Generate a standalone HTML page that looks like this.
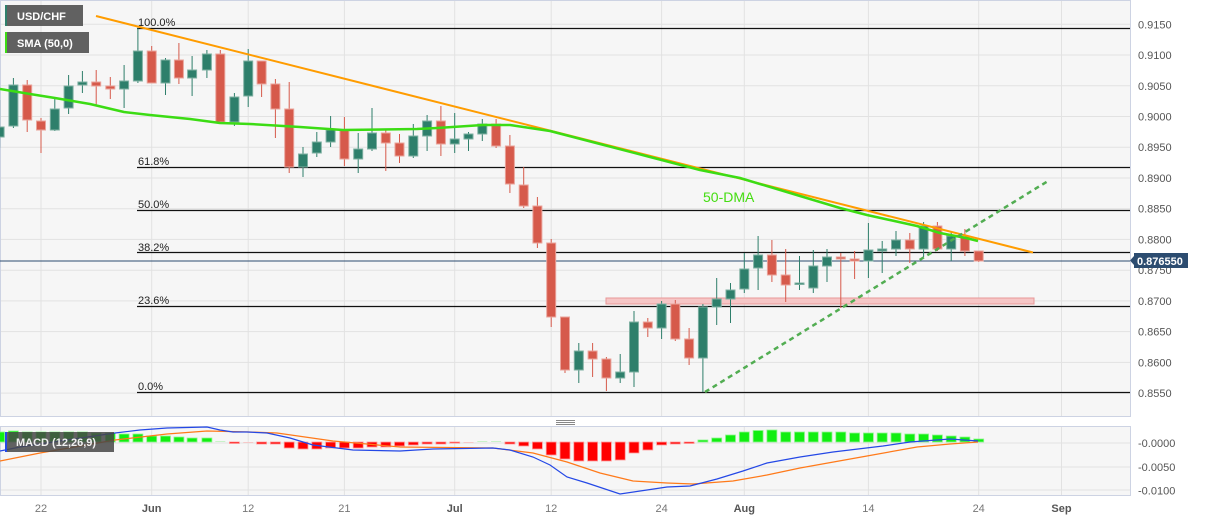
<!DOCTYPE html>
<html><head><meta charset="utf-8"><style>
html,body{margin:0;padding:0;background:#fff;width:1207px;height:521px;overflow:hidden}
svg{display:block}
text{font-family:"Liberation Sans",sans-serif}
.g line{stroke:#2e7f6b;stroke-width:1}
.g rect{fill:#2e7f6b;stroke:#7fb0a2;stroke-width:1}
.r line{stroke:#d65a4b;stroke-width:1}
.r rect{fill:#d65a4b;stroke:#eaa49b;stroke-width:1}
.grid line{stroke:#e2e2e2;stroke-width:1}
.fib line{stroke:#111;stroke-width:1.2}
.fib text{font-size:11px;fill:#222}
.ax text{font-size:11px;fill:#555}
.xl text{font-size:11px;fill:#777;text-anchor:middle}
.xl text.m{font-weight:bold;fill:#555}
.hg rect{fill:#11ee11;stroke:#8ff58f;stroke-width:0.8}
.hr rect{fill:#ff0000;stroke:#ff9a9a;stroke-width:0.8}
</style></head><body>
<svg width="1207" height="521" viewBox="0 0 1207 521" xmlns="http://www.w3.org/2000/svg">
<!-- panels -->
<rect x="0.5" y="0.5" width="1130" height="416" fill="#f6f6f6" stroke="#cdd3e3"/>
<rect x="0.5" y="426.5" width="1130" height="69" fill="#f6f6f6" stroke="#cdd3e3"/>
<!-- grip -->
<g stroke="#888" stroke-width="1"><line x1="556" y1="420.5" x2="575" y2="420.5"/><line x1="556" y1="422.5" x2="575" y2="422.5"/><line x1="556" y1="424.5" x2="575" y2="424.5"/></g>
<!-- grids main -->
<g class="grid">
<line x1="1" y1="24.3" x2="1130" y2="24.3"/><line x1="1" y1="55" x2="1130" y2="55"/><line x1="1" y1="85.8" x2="1130" y2="85.8"/><line x1="1" y1="116.5" x2="1130" y2="116.5"/><line x1="1" y1="147.2" x2="1130" y2="147.2"/><line x1="1" y1="178" x2="1130" y2="178"/><line x1="1" y1="208.7" x2="1130" y2="208.7"/><line x1="1" y1="239.4" x2="1130" y2="239.4"/><line x1="1" y1="270.2" x2="1130" y2="270.2"/><line x1="1" y1="300.9" x2="1130" y2="300.9"/><line x1="1" y1="331.6" x2="1130" y2="331.6"/><line x1="1" y1="362.4" x2="1130" y2="362.4"/><line x1="1" y1="393.1" x2="1130" y2="393.1"/>
<line x1="41" y1="1" x2="41" y2="416"/><line x1="151.7" y1="1" x2="151.7" y2="416"/><line x1="248.2" y1="1" x2="248.2" y2="416"/><line x1="344.4" y1="1" x2="344.4" y2="416"/><line x1="454.7" y1="1" x2="454.7" y2="416"/><line x1="551.2" y1="1" x2="551.2" y2="416"/><line x1="661.6" y1="1" x2="661.6" y2="416"/><line x1="744.3" y1="1" x2="744.3" y2="416"/><line x1="868.4" y1="1" x2="868.4" y2="416"/><line x1="978.7" y1="1" x2="978.7" y2="416"/><line x1="1061.5" y1="1" x2="1061.5" y2="416"/>
<line x1="1" y1="443" x2="1130" y2="443"/><line x1="1" y1="467" x2="1130" y2="467"/><line x1="1" y1="490" x2="1130" y2="490"/>
<line x1="41" y1="427" x2="41" y2="495"/><line x1="151.7" y1="427" x2="151.7" y2="495"/><line x1="248.2" y1="427" x2="248.2" y2="495"/><line x1="344.4" y1="427" x2="344.4" y2="495"/><line x1="454.7" y1="427" x2="454.7" y2="495"/><line x1="551.2" y1="427" x2="551.2" y2="495"/><line x1="661.6" y1="427" x2="661.6" y2="495"/><line x1="744.3" y1="427" x2="744.3" y2="495"/><line x1="868.4" y1="427" x2="868.4" y2="495"/><line x1="978.7" y1="427" x2="978.7" y2="495"/><line x1="1061.5" y1="427" x2="1061.5" y2="495"/>
</g>
<!-- fib -->
<g class="fib">
<line x1="137" y1="28.5" x2="1130" y2="28.5"/><text x="138" y="26">100.0%</text>
<line x1="137" y1="167.5" x2="1130" y2="167.5"/><text x="138" y="165">61.8%</text>
<line x1="137" y1="210.5" x2="1130" y2="210.5"/><text x="138" y="208">50.0%</text>
<line x1="137" y1="252.5" x2="1130" y2="252.5"/><text x="138" y="251">38.2%</text>
<line x1="137" y1="306.5" x2="1130" y2="306.5"/><text x="138" y="304">23.6%</text>
<line x1="137" y1="392.5" x2="1130" y2="392.5"/><text x="138" y="390">0.0%</text>
</g>
<!-- current price line -->
<line x1="0" y1="261" x2="1130" y2="261" stroke="#2c4c70" stroke-width="1"/>
<!-- pink zone -->
<rect x="606" y="298" width="428" height="6" fill="#f6c6c6" stroke="#e89898" stroke-width="1"/>
<!-- candles green -->
<g class="g">
<line x1="-0.4" y1="100" x2="-0.4" y2="148"/><rect x="-4.9" y="127" width="9" height="10"/>
<line x1="13.4" y1="78" x2="13.4" y2="128"/><rect x="8.9" y="85" width="9" height="41"/>
<line x1="54.8" y1="99" x2="54.8" y2="131"/><rect x="50.3" y="109" width="9" height="21"/>
<line x1="68.6" y1="75" x2="68.6" y2="114"/><rect x="64.1" y="86" width="9" height="22"/>
<line x1="82.4" y1="71" x2="82.4" y2="93"/><rect x="77.9" y="82" width="9" height="3"/>
<line x1="124.1" y1="65" x2="124.1" y2="108"/><rect x="119.6" y="81" width="9" height="8"/>
<line x1="137.9" y1="28" x2="137.9" y2="83"/><rect x="133.4" y="51" width="9" height="30"/>
<line x1="165.5" y1="58" x2="165.5" y2="95"/><rect x="161" y="60" width="9" height="23"/>
<line x1="192.1" y1="56" x2="192.1" y2="96"/><rect x="187.6" y="70" width="9" height="8"/>
<line x1="206.9" y1="50" x2="206.9" y2="78"/><rect x="202.4" y="54" width="9" height="16"/>
<line x1="234.4" y1="93" x2="234.4" y2="126"/><rect x="229.9" y="97" width="9" height="25"/>
<line x1="248.2" y1="49" x2="248.2" y2="107"/><rect x="243.7" y="61" width="9" height="35"/>
<line x1="303" y1="147" x2="303" y2="177"/><rect x="298.5" y="154" width="9" height="13"/>
<line x1="316.8" y1="132" x2="316.8" y2="157"/><rect x="312.3" y="142" width="9" height="11"/>
<line x1="330.6" y1="116" x2="330.6" y2="147"/><rect x="326.1" y="130" width="9" height="12"/>
<line x1="358.2" y1="133" x2="358.2" y2="173"/><rect x="353.7" y="149" width="9" height="10"/>
<line x1="372" y1="108" x2="372" y2="151"/><rect x="367.5" y="133" width="9" height="16"/>
<line x1="413.3" y1="124" x2="413.3" y2="158"/><rect x="408.8" y="136" width="9" height="20"/>
<line x1="427.1" y1="115" x2="427.1" y2="151"/><rect x="422.6" y="121" width="9" height="15"/>
<line x1="454.7" y1="113" x2="454.7" y2="153"/><rect x="450.2" y="139" width="9" height="5"/>
<line x1="468.5" y1="132" x2="468.5" y2="151"/><rect x="464" y="134" width="9" height="5"/>
<line x1="482.3" y1="119" x2="482.3" y2="141"/><rect x="477.8" y="124" width="9" height="10"/>
<line x1="578.8" y1="343" x2="578.8" y2="383"/><rect x="574.3" y="351" width="9" height="19"/>
<line x1="620.2" y1="354" x2="620.2" y2="383"/><rect x="615.7" y="372" width="9" height="6"/>
<line x1="634" y1="311" x2="634" y2="387"/><rect x="629.5" y="322" width="9" height="50"/>
<line x1="661.6" y1="301" x2="661.6" y2="339"/><rect x="657.1" y="304" width="9" height="24"/>
<line x1="702.9" y1="304" x2="702.9" y2="392"/><rect x="698.4" y="307" width="9" height="51"/>
<line x1="716.7" y1="278" x2="716.7" y2="325"/><rect x="712.2" y="299" width="9" height="8"/>
<line x1="730.5" y1="283" x2="730.5" y2="323"/><rect x="726" y="290" width="9" height="9"/>
<line x1="744.3" y1="253" x2="744.3" y2="293"/><rect x="739.8" y="269" width="9" height="20"/>
<line x1="758.1" y1="236" x2="758.1" y2="290"/><rect x="753.6" y="255" width="9" height="13"/>
<line x1="799.5" y1="256" x2="799.5" y2="290"/><rect x="795" y="283" width="9" height="1.5"/>
<line x1="813.3" y1="250" x2="813.3" y2="293"/><rect x="808.8" y="266" width="9" height="22"/>
<line x1="827" y1="249" x2="827" y2="282"/><rect x="822.5" y="257" width="9" height="9"/>
<line x1="868.4" y1="223" x2="868.4" y2="278"/><rect x="863.9" y="250" width="9" height="11"/>
<line x1="882.2" y1="241" x2="882.2" y2="273"/><rect x="877.7" y="249" width="9" height="2"/>
<line x1="896" y1="231" x2="896" y2="256"/><rect x="891.5" y="240" width="9" height="9"/>
<line x1="923.6" y1="222" x2="923.6" y2="257"/><rect x="919.1" y="226" width="9" height="23"/>
<line x1="951.2" y1="232" x2="951.2" y2="261"/><rect x="946.7" y="236" width="9" height="13"/>
</g>
<!-- candles red -->
<g class="r">
<line x1="27.2" y1="80" x2="27.2" y2="132"/><rect x="22.7" y="85" width="9" height="35"/>
<line x1="41" y1="118" x2="41" y2="153"/><rect x="36.5" y="121" width="9" height="9"/>
<line x1="96.2" y1="70" x2="96.2" y2="106"/><rect x="91.7" y="82" width="9" height="4"/>
<line x1="110.3" y1="77" x2="110.3" y2="99"/><rect x="105.8" y="86" width="9" height="3"/>
<line x1="151.7" y1="46" x2="151.7" y2="83"/><rect x="147.2" y="51" width="9" height="32"/>
<line x1="178.9" y1="43" x2="178.9" y2="84"/><rect x="174.4" y="60" width="9" height="18"/>
<line x1="220.3" y1="50" x2="220.3" y2="123"/><rect x="215.8" y="54" width="9" height="68"/>
<line x1="261.6" y1="61" x2="261.6" y2="97"/><rect x="257.1" y="61" width="9" height="23"/>
<line x1="275.4" y1="79" x2="275.4" y2="138"/><rect x="270.9" y="84" width="9" height="25"/>
<line x1="289.2" y1="82" x2="289.2" y2="173"/><rect x="284.7" y="109" width="9" height="58"/>
<line x1="344.4" y1="117" x2="344.4" y2="166"/><rect x="339.9" y="130" width="9" height="29"/>
<line x1="385.8" y1="130" x2="385.8" y2="171"/><rect x="381.3" y="133" width="9" height="10"/>
<line x1="399.5" y1="134" x2="399.5" y2="163"/><rect x="395" y="143" width="9" height="13"/>
<line x1="440.9" y1="106" x2="440.9" y2="156"/><rect x="436.4" y="121" width="9" height="23"/>
<line x1="496.1" y1="119" x2="496.1" y2="148"/><rect x="491.6" y="124" width="9" height="22"/>
<line x1="509.9" y1="135" x2="509.9" y2="193"/><rect x="505.4" y="146" width="9" height="38"/>
<line x1="523.7" y1="167" x2="523.7" y2="208"/><rect x="519.2" y="185" width="9" height="21"/>
<line x1="537.4" y1="197" x2="537.4" y2="248"/><rect x="532.9" y="206" width="9" height="37"/>
<line x1="551.2" y1="239" x2="551.2" y2="327"/><rect x="546.7" y="243" width="9" height="74"/>
<line x1="565" y1="317" x2="565" y2="373"/><rect x="560.5" y="317" width="9" height="53"/>
<line x1="592.6" y1="343" x2="592.6" y2="377"/><rect x="588.1" y="351" width="9" height="8"/>
<line x1="606.4" y1="357" x2="606.4" y2="391"/><rect x="601.9" y="359" width="9" height="19"/>
<line x1="647.8" y1="318" x2="647.8" y2="337"/><rect x="643.3" y="322" width="9" height="6"/>
<line x1="675.3" y1="300" x2="675.3" y2="341"/><rect x="670.8" y="304" width="9" height="35"/>
<line x1="689.1" y1="328" x2="689.1" y2="365"/><rect x="684.6" y="339" width="9" height="19"/>
<line x1="771.9" y1="240" x2="771.9" y2="282"/><rect x="767.4" y="255" width="9" height="20"/>
<line x1="785.7" y1="249" x2="785.7" y2="302"/><rect x="781.2" y="275" width="9" height="10"/>
<line x1="840.8" y1="253" x2="840.8" y2="308"/><rect x="836.3" y="257" width="9" height="2"/>
<line x1="854.6" y1="251" x2="854.6" y2="279"/><rect x="850.1" y="259" width="9" height="2"/>
<line x1="909.8" y1="233" x2="909.8" y2="263"/><rect x="905.3" y="240" width="9" height="9"/>
<line x1="937.4" y1="222" x2="937.4" y2="251"/><rect x="932.9" y="226" width="9" height="23"/>
<line x1="964.9" y1="229" x2="964.9" y2="256"/><rect x="960.4" y="236" width="9" height="15"/>
<line x1="978.7" y1="251" x2="978.7" y2="262"/><rect x="974.2" y="251" width="9" height="10"/>
</g>
<!-- lines -->
<line x1="96" y1="16" x2="1033" y2="252.5" stroke="#ff9c00" stroke-width="2"/>
<polyline fill="none" stroke="#3cdc14" stroke-width="2.5" stroke-linejoin="round" points="0,89 30,94 55,98 90,104 124,112 150,115 190,119 220,123 250,124 300,127 343,130 417,129 437,128 483,125 510,125 550,131 600,144 650,157 700,170 740,178 800,196 840,208 867,215 917,226 940,233 966,238 978,241"/>
<line x1="705" y1="392" x2="1048" y2="181" stroke="#52ad52" stroke-width="2.5" stroke-dasharray="5,4"/>
<text x="703" y="202" font-size="14" fill="#44dd11">50-DMA</text>
<!-- histogram green -->
<g class="hg">
<rect x="-5.4" y="432" width="10" height="10"/><rect x="8.4" y="431" width="10" height="11"/><rect x="22.2" y="432" width="10" height="10"/><rect x="36" y="432" width="10" height="10"/><rect x="49.8" y="432" width="10" height="10"/><rect x="63.6" y="432" width="10" height="10"/><rect x="77.4" y="432" width="10" height="10"/><rect x="91.2" y="433" width="10" height="9"/><rect x="105.3" y="433" width="10" height="9"/><rect x="119.1" y="434" width="10" height="8"/><rect x="132.9" y="434" width="10" height="8"/><rect x="146.7" y="436" width="10" height="6"/><rect x="160.5" y="436" width="10" height="6"/><rect x="173.9" y="437" width="10" height="5"/><rect x="187.1" y="438" width="10" height="4"/><rect x="201.9" y="438" width="10" height="4"/>
<rect x="697.9" y="440" width="10" height="2"/><rect x="711.7" y="438" width="10" height="4"/><rect x="725.5" y="435" width="10" height="7"/><rect x="739.3" y="432" width="10" height="10"/><rect x="753.1" y="430.5" width="10" height="11.5"/><rect x="766.9" y="430" width="10" height="12"/><rect x="780.7" y="432" width="10" height="10"/><rect x="794.5" y="432" width="10" height="10"/><rect x="808.3" y="432" width="10" height="10"/><rect x="822" y="432" width="10" height="10"/><rect x="835.8" y="432" width="10" height="10"/><rect x="849.6" y="433" width="10" height="9"/><rect x="863.4" y="433" width="10" height="9"/><rect x="877.2" y="433" width="10" height="9"/><rect x="891" y="433" width="10" height="9"/><rect x="904.8" y="434" width="10" height="8"/><rect x="918.6" y="434" width="10" height="8"/><rect x="932.4" y="435" width="10" height="7"/><rect x="946.2" y="436" width="10" height="6"/><rect x="959.9" y="437" width="10" height="5"/><rect x="973.7" y="439" width="10" height="3"/>
</g>
<g fill="#c8f2c8"><rect x="215.3" y="441" width="10" height="1"/><rect x="477.3" y="441" width="10" height="1"/><rect x="491.1" y="441" width="10" height="1"/></g>
<g fill="#f5c8c8"><rect x="243.2" y="442" width="10" height="1"/><rect x="463.5" y="442" width="10" height="1"/></g>
<g class="hr">
<rect x="229.4" y="442" width="10" height="1.5"/><rect x="256.6" y="442" width="10" height="2"/><rect x="270.4" y="442" width="10" height="2"/><rect x="284.2" y="442" width="10" height="6"/><rect x="298" y="442" width="10" height="7"/><rect x="311.8" y="442" width="10" height="7"/><rect x="325.6" y="442" width="10" height="6"/><rect x="339.4" y="442" width="10" height="6"/><rect x="353.2" y="442" width="10" height="6"/><rect x="367" y="442" width="10" height="5"/><rect x="380.8" y="442" width="10" height="5"/><rect x="394.5" y="442" width="10" height="4"/><rect x="408.3" y="442" width="10" height="3"/><rect x="422.1" y="442" width="10" height="2"/><rect x="435.9" y="442" width="10" height="2"/><rect x="449.7" y="442" width="10" height="1.2"/>
<rect x="504.9" y="442" width="10" height="2"/><rect x="518.7" y="442" width="10" height="4"/><rect x="532.4" y="442" width="10" height="7"/><rect x="546.2" y="442" width="10" height="13"/><rect x="560" y="442" width="10" height="17"/><rect x="573.8" y="442" width="10" height="19"/><rect x="587.6" y="442" width="10" height="19"/><rect x="601.4" y="442" width="10" height="19"/><rect x="615.2" y="442" width="10" height="18"/><rect x="629" y="442" width="10" height="11"/><rect x="642.8" y="442" width="10" height="8"/><rect x="656.6" y="442" width="10" height="3"/><rect x="670.3" y="442" width="10" height="2"/><rect x="684.1" y="442" width="10" height="1.5"/>
</g>
<polyline fill="none" stroke="#ff7a1a" stroke-width="1.2" points="0,461 40,453 115,440 167,434 207,431 250,432 277,433 333,441 400,447 493,448 533,453 567,462 600,473 633,481 667,483 693,484 733,481 767,475 800,468 867,456 917,447 950,444 978,442"/>
<polyline fill="none" stroke="#2448e6" stroke-width="1.2" points="0,451 20,447 60,441 115,433 140,430 167,428 207,427 220,430 233,432 247,432 267,433 290,438 313,445 353,450 400,451 433,449 493,448 510,450 533,457 550,465 567,477 587,483 620,494 647,490 667,487 690,486 717,479 743,471 767,463 800,457 833,452 883,446 910,442 950,439 978,441"/>
<!-- legends -->
<rect x="5" y="5" width="78" height="21" fill="rgba(85,85,85,0.93)"/><rect x="5" y="5" width="2" height="21" fill="#2e7f6b"/>
<text x="17" y="20" font-size="11" font-weight="bold" fill="#fff">USD/CHF</text>
<rect x="5" y="32" width="84" height="21" fill="rgba(85,85,85,0.93)"/><rect x="5" y="32" width="2" height="21" fill="#3cdc14"/>
<text x="17" y="47" font-size="11" font-weight="bold" fill="#fff">SMA (50,0)</text>
<rect x="5" y="432" width="109" height="20" fill="rgba(70,70,70,0.85)"/><rect x="5" y="432" width="2" height="20" fill="#2448e6"/>
<text x="16" y="446" font-size="11" font-weight="bold" fill="#f0f0f0">MACD (12,26,9)</text>
<!-- right axis -->
<g class="ax">
<text x="1138" y="28.3">0.9150</text><text x="1138" y="59">0.9100</text><text x="1138" y="89.8">0.9050</text><text x="1138" y="120.5">0.9000</text><text x="1138" y="151.2">0.8950</text><text x="1138" y="182">0.8900</text><text x="1138" y="212.7">0.8850</text><text x="1138" y="243.4">0.8800</text><text x="1138" y="274.2">0.8750</text><text x="1138" y="304.9">0.8700</text><text x="1138" y="335.6">0.8650</text><text x="1138" y="366.4">0.8600</text><text x="1138" y="397.1">0.8550</text>
<text x="1138" y="447">-0.0000</text><text x="1138" y="471">-0.0050</text><text x="1138" y="494.5">-0.0100</text>
</g>
<path d="M1130,260.5 L1134,256 L1134,253 L1188,253 L1188,268 L1134,268 L1134,265 Z" fill="#2c4c70"/>
<text x="1137" y="265" font-size="11" font-weight="bold" fill="#fff">0.876550</text>
<!-- x axis -->
<g class="xl">
<text x="41" y="512">22</text><text class="m" x="151.7" y="512">Jun</text><text x="248.2" y="512">12</text><text x="344.4" y="512">21</text><text class="m" x="454.7" y="512">Jul</text><text x="551.2" y="512">12</text><text x="661.6" y="512">24</text><text class="m" x="744.3" y="512">Aug</text><text x="868.4" y="512">14</text><text x="978.7" y="512">24</text><text class="m" x="1061.5" y="512">Sep</text>
</g>
</svg>
</body></html>
